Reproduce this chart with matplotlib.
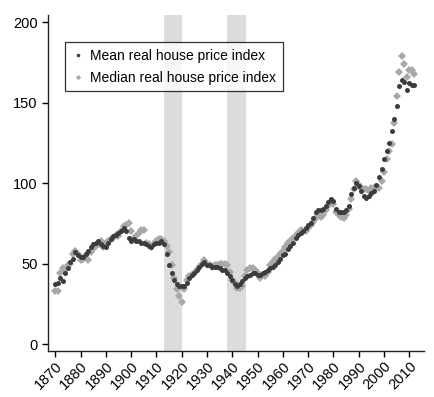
import matplotlib
matplotlib.use("Agg")
import matplotlib.pyplot as plt
import numpy as np

plt.rcParams['font.family'] = ['Liberation Sans', 'DejaVu Sans']

years = np.arange(1870, 2013)

mean_index = [
    37, 38, 41, 39, 44, 47, 51, 53, 57, 55,
    54, 54, 56, 58, 60, 62, 63, 64, 62, 61,
    60, 63, 65, 67, 68, 69, 70, 72, 70, 66,
    64, 65, 64, 64, 63, 63, 62, 61, 60, 62,
    63, 63, 64, 62, 56, 49, 44, 40, 37, 36,
    36, 36, 38, 41, 43, 44, 46, 48, 50, 51,
    49, 49, 48, 48, 48, 47, 46, 46, 44, 42,
    40, 37, 36, 37, 39, 41, 42, 43, 44, 44,
    43, 43, 44, 45, 46, 47, 48, 49, 51, 53,
    55, 56, 59, 61, 63, 66, 68, 69, 70, 72,
    74, 75, 78, 82, 83, 83, 84, 86, 88, 90,
    89, 84, 82, 82, 82, 83, 86, 93, 97, 100,
    98, 95, 92, 91, 92, 94, 95, 99, 104, 109,
    115, 120, 125, 132, 140, 148, 160, 164, 163, 158,
    162, 161, 161,
]

median_index = [
    33, 33, 44, 47, 46, 49, 50, 56, 58, 56,
    52, 53, 55, 52, 57, 59, 61, 62, 64, 60,
    63, 64, 65, 66, 68, 67, 70, 73, 74, 75,
    70, 66, 67, 69, 71, 71, 63, 62, 60, 62,
    64, 65, 65, 64, 61, 57, 49, 41, 34, 30,
    26, 34, 40, 42, 43, 44, 46, 48, 50, 52,
    50, 49, 48, 49, 49, 50, 50, 50, 49, 45,
    40, 38, 35, 35, 36, 42, 46, 47, 47, 46,
    44, 41, 43, 42, 45, 49, 51, 53, 54, 56,
    58, 60, 63, 64, 66, 67, 69, 71, 70, 70,
    72, 74, 76, 78, 80, 79, 80, 83, 86, 89,
    87, 82, 80, 79, 78, 80, 84, 90, 96, 101,
    99, 97, 96, 96, 95, 97, 97, 97, 97, 101,
    107, 115, 120, 124, 137, 154, 169, 179, 174, 166,
    170, 170, 168,
]

war_periods = [(1913, 1920), (1938, 1945.5)]

fig = plt.figure(figsize=(4.34, 3.97), dpi=100)
ax = fig.add_axes([0.111, 0.116, 0.866, 0.846])

for start, end in war_periods:
    ax.axvspan(start, end, color='#dcdcdc', lw=0, zorder=0)

ax.plot(years, median_index, linestyle='none', marker='D', markersize=3.8,
        color='#a8a8a8', markeredgewidth=0, label='Median real house price index', zorder=2)
ax.plot(years, mean_index, linestyle='none', marker='o', markersize=3.6,
        color='#3c3c3c', markeredgewidth=0, label='Mean real house price index', zorder=3)

ax.set_xlim(1867.2, 2015.8)
ax.set_ylim(-4.3, 204.3)
ax.set_xticks(np.arange(1870, 2011, 10))
ax.set_yticks([0, 50, 100, 150, 200])
ax.tick_params(axis='x', labelsize=10.5, length=4, width=1, rotation=45, pad=2)
ax.tick_params(axis='y', labelsize=10.5, length=4, width=1)
for lbl in ax.get_xticklabels():
    lbl.set_ha('right')
    lbl.set_rotation_mode('anchor')

for side in ['top', 'right']:
    ax.spines[side].set_visible(False)
for side in ['left', 'bottom']:
    ax.spines[side].set_linewidth(1)
    ax.spines[side].set_color('#222222')

handles, labels = ax.get_legend_handles_labels()
leg = ax.legend(handles[::-1], labels[::-1], loc='upper left', bbox_to_anchor=(0.045, 0.92),
                fontsize=10, frameon=True, fancybox=False, edgecolor='black',
                handlelength=0.8, handletextpad=0.5, borderpad=0.5, labelspacing=0.55,
                markerscale=0.7, borderaxespad=0)
leg.get_frame().set_linewidth(0.9)

fig.savefig('out.png', dpi=100)
